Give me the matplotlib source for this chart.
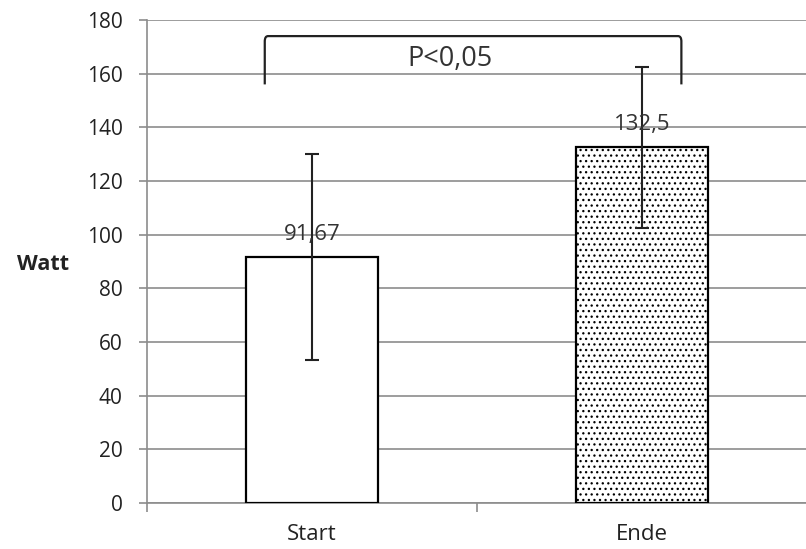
import matplotlib as mpl
mpl.use('Agg')
import matplotlib.pyplot as plt
from matplotlib.path import Path
import matplotlib.patches as mpatches

# data
categories = ['Start', 'Ende']
means = [91.67, 132.5]
errors = [38.5, 30.0]
value_labels = ['91,67', '132,5']
hatches = ['', '...']
y_ticks = [0, 20, 40, 60, 80, 100, 120, 140, 160, 180]
sig_text = 'P<0,05'
bracket_top = 174
bracket_bottom = 156

plt.rcParams['font.family'] = ['Open Sans', 'DejaVu Sans']
plt.rcParams['hatch.linewidth'] = 0.9

fig = plt.figure(figsize=(8.06, 5.49), dpi=100)
ax = fig.add_axes([147 / 806, 46 / 549, 1 - 147 / 806 + 0.005, (503 - 20) / 549])

x = list(range(len(categories)))
bars = ax.bar(x, means, width=0.4, color='white', edgecolor='black',
              linewidth=1.6, zorder=3)
for b, h in zip(bars, hatches):
    b.set_hatch(h)

ax.errorbar(x, means, yerr=errors, fmt='none', ecolor='#222222',
            elinewidth=1.5, capsize=5, capthick=1.5, zorder=4)

for xi, m, lab in zip(x, means, value_labels):
    ax.text(xi, m + 8.5, lab, ha='center', va='center', fontsize=16,
            color='#333333', zorder=5)

# significance bracket, rounded corners
xl, xr = -0.143, 1.12
r = 0.01
verts = [(xl, bracket_bottom), (xl, bracket_top - 2), (xl, bracket_top), (xl + r, bracket_top),
         (xr - r, bracket_top), (xr, bracket_top), (xr, bracket_top - 2), (xr, bracket_bottom)]
codes = [Path.MOVETO, Path.LINETO, Path.CURVE3, Path.CURVE3,
         Path.LINETO, Path.CURVE3, Path.CURVE3, Path.LINETO]
ax.add_patch(mpatches.PathPatch(Path(verts, codes), fill=False,
                                edgecolor='#222222', linewidth=1.6, zorder=5))
ax.text(0.42, 165.5, sig_text, ha='center', va='center', fontsize=19.5,
        color='#333333', zorder=5)

ax.set_ylim(0, 180)
ax.set_xlim(-0.5, 1.51)
ax.set_yticks(y_ticks)
ax.yaxis.grid(True, color='#8c8c8c', linewidth=1.2, zorder=0)
ax.set_axisbelow(True)

ax.set_xticks(x)
ax.set_xticklabels(categories, fontsize=16)
ax.set_xticks([-0.5, 0.5, 1.5], minor=True)
ax.tick_params(axis='x', which='major', length=0, pad=15, colors='#222222')
ax.tick_params(axis='x', which='minor', length=6.5, color='#8c8c8c', width=1.2)
ax.tick_params(axis='y', length=5.5, color='#8c8c8c', width=1.2,
               labelsize=15, pad=12)
for lab in ax.get_yticklabels():
    lab.set_color('#222222')

for s in ['top', 'right']:
    ax.spines[s].set_visible(False)
ax.spines['left'].set_color('#8c8c8c')
ax.spines['left'].set_linewidth(1.2)
ax.spines['bottom'].set_color('#8c8c8c')
ax.spines['bottom'].set_linewidth(1.2)

fig.text(43 / 806, 1 - 265 / 549, 'Watt', ha='center', va='center',
         fontsize=15.5, fontweight='bold', color='#222222')

plt.savefig('out.png', dpi=100)
